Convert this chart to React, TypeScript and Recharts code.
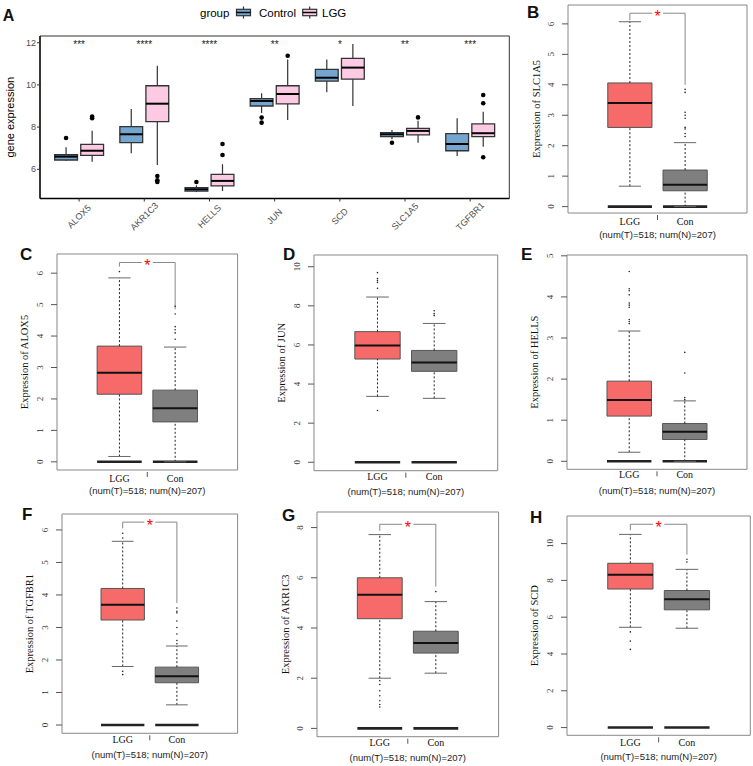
import React from 'react';
import { ComposedChart, XAxis, YAxis, ReferenceArea, ReferenceLine, Scatter } from 'recharts';

const SANS = '"Liberation Sans", Arial, Helvetica, sans-serif';
const SERIF = '"Liberation Serif", "Times New Roman", Times, serif';

// ---------------- Panel A data (ggplot grouped boxplot) ----------------
const genes = ['ALOX5', 'AKR1C3', 'HELLS', 'JUN', 'SCD', 'SLC1A5', 'TGFBR1'];
const groupNames = ['Control', 'LGG'];
const ctrlLow = [6.40, 6.76, 4.92, 8.67, 9.65, 7.42, 6.63];
const ctrlQ1 = [6.44, 7.26, 4.97, 9.00, 10.18, 7.55, 6.88];
const ctrlMed = [6.60, 7.66, 5.05, 9.24, 10.34, 7.66, 7.20];
const ctrlQ3 = [6.69, 8.02, 5.13, 9.35, 10.74, 7.74, 7.69];
const ctrlHigh = [7.04, 8.86, 5.24, 9.60, 11.21, 7.86, 8.42];
const ctrlOutliers = [[7.48], [], [5.40], [8.45, 8.21], [], [7.26], []];
const lggLow = [6.36, 6.20, 4.97, 8.34, 9.00, 7.26, 7.07];
const lggQ1 = [6.66, 8.26, 5.21, 9.10, 10.27, 7.63, 7.55];
const lggMed = [6.88, 9.11, 5.45, 9.57, 10.82, 7.82, 7.71];
const lggQ3 = [7.18, 9.96, 5.76, 9.96, 11.26, 7.94, 8.15];
const lggHigh = [7.83, 10.91, 6.24, 11.20, 11.94, 8.30, 8.73];
const lggOutliers = [[8.50, 8.42], [5.68, 5.48, 5.40], [7.20, 6.68], [11.38], [], [8.46], [9.52, 9.13, 6.57]];
const sigLabels = ['***', '****', '****', '**', '*', '**', '***'];
const sigLevel = 12;
const aYTicks = [6, 8, 10, 12];
const aYDomain: [number, number] = [4.616, 12.318];

// ---------------- Panels B-H data (GEPIA boxplots) ----------------
const gepiaGenes = ['SLC1A5', 'ALOX5', 'JUN', 'HELLS', 'TGFBR1', 'AKR1C3', 'SCD'];
const gepiaLetters = ['B', 'C', 'D', 'E', 'F', 'G', 'H'];
const gepiaGroups = ['LGG', 'Con'];
const sampleCounts = [518, 207];
const tumorLow = [0.67, 0.17, 3.37, 0.22, 1.80, 2.00, 5.45];
const tumorQ1 = [2.60, 2.15, 5.28, 1.10, 3.23, 4.37, 7.53];
const tumorMed = [3.40, 2.83, 5.97, 1.49, 3.70, 5.32, 8.30];
const tumorQ3 = [4.06, 3.68, 6.68, 1.95, 4.20, 6.00, 8.93];
const tumorHigh = [6.07, 5.85, 8.45, 3.17, 5.65, 7.72, 10.50];
const normalLow = [0.00, 0.00, 3.27, 0.00, 0.62, 2.20, 5.40];
const normalQ1 = [0.52, 1.27, 4.65, 0.53, 1.30, 3.00, 6.40];
const normalMed = [0.72, 1.70, 5.10, 0.72, 1.50, 3.40, 6.97];
const normalQ3 = [1.20, 2.28, 5.72, 0.92, 1.78, 3.87, 7.45];
const normalHigh = [2.10, 3.65, 7.10, 1.47, 2.43, 5.05, 8.60];
const tumorExtra = [
  [],
  [6.05],
  [9.7, 9.4, 9.3, 9.2, 8.9, 2.65],
  [4.62, 4.2, 4.15, 4.05, 3.85, 3.8, 3.75, 3.45, 3.4, 3.35],
  [5.9, 5.75, 1.65, 1.55],
  [1.9, 1.75, 1.5, 1.3, 1.1, 0.95, 0.85],
  [5.2, 4.7, 4.25],
];
const normalExtra = [
  [3.85, 3.75, 3.1, 3.0, 2.9, 2.6, 2.55, 2.4, 2.3],
  [4.95, 4.7, 4.3, 4.2, 4.1, 3.9],
  [7.75, 7.6, 7.5],
  [2.65, 2.15, 1.55, 1.5],
  [3.6, 3.5, 3.45, 3.2, 3.0, 2.8, 2.6, 2.5],
  [5.45],
  [9.15, 9.0],
];
const significant = [true, true, false, false, true, true, true];
const bracketTop = [6.35, 6.34, 0, 0, 6.24, 8.13, 11.05];
const bracketLeftEnd = [6.12, 6.21, 0, 0, 6.05, 7.87, 10.72];
const bracketRightEnd = [4.0, 4.85, 0, 0, 3.75, 5.65, 9.4];
const gepiaYTicks = [
  [0, 1, 2, 3, 4, 5, 6],
  [0, 1, 2, 3, 4, 5, 6],
  [0, 2, 4, 6, 8, 10],
  [0, 1, 2, 3, 4, 5],
  [0, 1, 2, 3, 4, 5, 6],
  [0, 2, 4, 6, 8],
  [0, 2, 4, 6, 8, 10],
];
const gepiaYDomains: [number, number][] = [
  [-0.21, 6.62],
  [-0.26, 6.61],
  [-0.43, 10.6],
  [-0.195, 5.02],
  [-0.255, 6.49],
  [-0.33, 8.62],
  [-0.42, 11.5],
];
const gepiaXDomain: [number, number] = [-0.12, 3.12];

// ---------------- Layout (positions/sizes) ----------------
const gepiaFrames = [
  { x: 567.7, y: 5, w: 179, h: 208, lab: 12.4 },
  { x: 56.7, y: 254, w: 180.6, h: 216, lab: 11.7 },
  { x: 314.3, y: 255, w: 183.7, h: 215.7, lab: 9.3 },
  { x: 566.7, y: 255, w: 180, h: 214.3, lab: 9 },
  { x: 61.7, y: 514, w: 175.6, h: 219.3, lab: 10 },
  { x: 316.7, y: 512, w: 181.6, h: 224.7, lab: 9.3 },
  { x: 566.7, y: 515.7, w: 183.3, h: 219.3, lab: 11 },
];
const letterPos = [
  { t: 'A', x: 2.7, y: 20.7, s: 16 },
  { t: 'B', x: 527, y: 17.5, s: 17 },
  { t: 'C', x: 20, y: 260, s: 17 },
  { t: 'D', x: 283, y: 260, s: 17 },
  { t: 'E', x: 521, y: 260, s: 17 },
  { t: 'F', x: 22, y: 520, s: 17 },
  { t: 'G', x: 282, y: 521, s: 17 },
  { t: 'H', x: 530, y: 523, s: 17 },
];

const ctrlFill = '#74A6CF';
const lggFill = '#FCCAE3';
const tumorFill = '#F76A6A';
const normalFill = '#7F7F7F';

// ---------------- Panel A ----------------
function aBox(key: string, c: number, low: number, q1: number, med: number, q3: number, high: number, fill: string) {
  const hw = 0.175;
  return [
    <ReferenceLine key={key + 'wu'} segment={[{ x: c, y: q3 }, { x: c, y: high }]} stroke="#333" strokeWidth={1.2} ifOverflow="visible" />,
    <ReferenceLine key={key + 'wl'} segment={[{ x: c, y: low }, { x: c, y: q1 }]} stroke="#333" strokeWidth={1.2} ifOverflow="visible" />,
    <ReferenceArea key={key + 'b'} x1={c - hw} x2={c + hw} y1={q1} y2={q3} fill={fill} fillOpacity={1} stroke="#333" strokeWidth={1.3} ifOverflow="visible" />,
    <ReferenceLine key={key + 'm'} segment={[{ x: c - hw, y: med }, { x: c + hw, y: med }]} stroke="#000" strokeWidth={2} ifOverflow="visible" />,
  ];
}

const AXTick = (props: any) => {
  const { x, y, payload } = props;
  const label = genes[Math.round(payload.value) - 1];
  const cy = y + 15;
  return (
    <text x={x} y={cy} textAnchor="middle" dominantBaseline="central" transform={`rotate(-45, ${x}, ${cy})`} fontSize={9} fill="#4D4D4D" fontFamily={SANS}>
      {label}
    </text>
  );
};

function PanelA() {
  const elements: any[] = [];
  genes.forEach((g, i) => {
    const c = i + 1;
    elements.push(...aBox('c' + i, c - 0.2, ctrlLow[i], ctrlQ1[i], ctrlMed[i], ctrlQ3[i], ctrlHigh[i], ctrlFill));
    elements.push(...aBox('l' + i, c + 0.2, lggLow[i], lggQ1[i], lggMed[i], lggQ3[i], lggHigh[i], lggFill));
  });
  const outliers: { x: number; y: number }[] = [];
  genes.forEach((g, i) => {
    ctrlOutliers[i].forEach((v) => outliers.push({ x: i + 1 - 0.2, y: v }));
    lggOutliers[i].forEach((v) => outliers.push({ x: i + 1 + 0.2, y: v }));
  });
  const stars = genes.map((g, i) => ({ x: i + 1, y: sigLevel, label: sigLabels[i] }));
  return (
    <div style={{ position: 'absolute', left: 0, top: 0 }}>
      <ComposedChart width={515} height={250} margin={{ top: 36, right: 5.7, bottom: 6.5, left: 0 }}>
        <XAxis
          dataKey="x"
          type="number"
          domain={[0.4, 7.6]}
          allowDataOverflow
          ticks={[1, 2, 3, 4, 5, 6, 7]}
          interval={0}
          height={45}
          tickSize={3}
          tickMargin={0}
          tick={AXTick}
          axisLine={{ stroke: '#000', strokeWidth: 1.3 }}
          tickLine={{ stroke: '#333' }}
        />
        <YAxis
          dataKey="y"
          type="number"
          domain={aYDomain}
          allowDataOverflow
          ticks={aYTicks}
          interval={0}
          width={40}
          tickSize={3}
          tickMargin={1}
          tick={{ fontSize: 9, fill: '#4D4D4D', fontFamily: SANS }}
          axisLine={{ stroke: '#000', strokeWidth: 1.3 }}
          tickLine={{ stroke: '#333' }}
          label={(p: any) => {
            const vb = p.viewBox;
            const tx = vb.x + 14;
            const ty = vb.y + vb.height / 2;
            return (
              <text x={tx} y={ty} transform={`rotate(-90, ${tx}, ${ty})`} textAnchor="middle" fontSize={11} fontFamily={SANS} fill="#000">
                gene expression
              </text>
            );
          }}
        />
        <ReferenceArea x1={0.4} x2={7.6} y1={aYDomain[0]} y2={aYDomain[1]} fill="none" stroke="#333" strokeWidth={1} ifOverflow="visible" />
        {elements}
        <Scatter
          data={outliers}
          dataKey="y"
          isAnimationActive={false}
          shape={(p: any) => <circle cx={p.cx} cy={p.cy} r={2.3} fill="#000" />}
        />
        <Scatter
          data={stars}
          dataKey="y"
          isAnimationActive={false}
          shape={(p: any) => (
            <text x={p.cx} y={p.cy + 5.7} textAnchor="middle" fontSize={10} fontFamily={SANS} fill="#222">
              {p.payload.label}
            </text>
          )}
        />
      </ComposedChart>
    </div>
  );
}

// ---------------- GEPIA panels ----------------
function gepiaBox(key: string, c: number, low: number, q1: number, med: number, q3: number, high: number, fill: string) {
  const hw = 0.4;
  const sw = 0.2;
  return [
    <ReferenceLine key={key + 'z'} segment={[{ x: c - hw, y: 0 }, { x: c + hw, y: 0 }]} stroke="#222" strokeWidth={2.6} ifOverflow="visible" />,
    <ReferenceLine key={key + 'wu'} segment={[{ x: c, y: q3 }, { x: c, y: high }]} stroke="#222" strokeWidth={1} strokeDasharray="2 2" ifOverflow="visible" />,
    <ReferenceLine key={key + 'wl'} segment={[{ x: c, y: low }, { x: c, y: q1 }]} stroke="#222" strokeWidth={1} strokeDasharray="2 2" ifOverflow="visible" />,
    <ReferenceLine key={key + 'su'} segment={[{ x: c - sw, y: high }, { x: c + sw, y: high }]} stroke="#666" strokeWidth={1} ifOverflow="visible" />,
    <ReferenceLine key={key + 'sl'} segment={[{ x: c - sw, y: low }, { x: c + sw, y: low }]} stroke="#666" strokeWidth={1} ifOverflow="visible" />,
    <ReferenceArea key={key + 'b'} x1={c - hw} x2={c + hw} y1={q1} y2={q3} fill={fill} fillOpacity={1} stroke="#555" strokeWidth={1} ifOverflow="visible" />,
    <ReferenceLine key={key + 'm'} segment={[{ x: c - hw, y: med }, { x: c + hw, y: med }]} stroke="#111" strokeWidth={2} ifOverflow="visible" />,
  ];
}

function GepiaPanel({ idx }: { idx: number }) {
  const F = gepiaFrames[idx];
  const W = F.w + 45;
  const H = F.h + 5 + 36;
  const dom = gepiaYDomains[idx];
  const elements: any[] = [];
  elements.push(...gepiaBox('t', 1, tumorLow[idx], tumorQ1[idx], tumorMed[idx], tumorQ3[idx], tumorHigh[idx], tumorFill));
  elements.push(...gepiaBox('n', 2, normalLow[idx], normalQ1[idx], normalMed[idx], normalQ3[idx], normalHigh[idx], normalFill));
  if (significant[idx]) {
    const top = bracketTop[idx];
    elements.push(
      <ReferenceLine key="bl" segment={[{ x: 1, y: bracketLeftEnd[idx] }, { x: 1, y: top }]} stroke="#888" strokeWidth={1} ifOverflow="visible" />,
      <ReferenceLine key="bh1" segment={[{ x: 1, y: top }, { x: 1.4, y: top }]} stroke="#888" strokeWidth={1} ifOverflow="visible" />,
      <ReferenceLine key="bh2" segment={[{ x: 1.6, y: top }, { x: 2, y: top }]} stroke="#888" strokeWidth={1} ifOverflow="visible" />,
      <ReferenceLine key="br" segment={[{ x: 2, y: top }, { x: 2, y: bracketRightEnd[idx] }]} stroke="#888" strokeWidth={1} ifOverflow="visible" />
    );
  }
  const pts: { x: number; y: number }[] = [];
  tumorExtra[idx].forEach((v) => pts.push({ x: 1, y: v }));
  normalExtra[idx].forEach((v) => pts.push({ x: 2, y: v }));
  const starData = significant[idx] ? [{ x: 1.5, y: bracketTop[idx] }] : [];
  const lab = F.lab;
  const XTick = (props: any) => {
    const { x, y, payload } = props;
    if (payload.value === 1.5) {
      return <line x1={x} x2={x} y1={y + 2} y2={y + 7} stroke="#555" strokeWidth={1} />;
    }
    return (
      <text x={x} y={y + lab} textAnchor="middle" fontSize={10} fontFamily={SERIF} fill="#111">
        {gepiaGroups[Math.round(payload.value) - 1]}
      </text>
    );
  };
  const YTick = (props: any) => {
    const { x, y, payload } = props;
    const tx = x - 14;
    return (
      <g>
        <line x1={x - 6} x2={x} y1={y} y2={y} stroke="#555" strokeWidth={1} />
        <text x={tx} y={y} transform={`rotate(-90, ${tx}, ${y})`} textAnchor="middle" fontSize={9} fontFamily={SERIF} fill="#333">
          {payload.value}
        </text>
      </g>
    );
  };
  return (
    <div style={{ position: 'absolute', left: F.x - 40, top: F.y - 5 }}>
      <ComposedChart width={W} height={H} margin={{ top: 5, right: 5, bottom: 4, left: 0 }}>
        <XAxis
          dataKey="x"
          type="number"
          domain={gepiaXDomain}
          allowDataOverflow
          ticks={[1, 1.5, 2]}
          interval={0}
          height={32}
          tickSize={0}
          tickMargin={0}
          axisLine={false}
          tickLine={false}
          tick={XTick}
          label={(p: any) => {
            const vb = p.viewBox;
            return (
              <text x={vb.x + vb.width / 2} y={vb.y + 24.5} textAnchor="middle" fontSize={9.5} fontFamily={SANS} fill="#222">
                {`(num(T)=${sampleCounts[0]}; num(N)=${sampleCounts[1]})`}
              </text>
            );
          }}
        />
        <YAxis
          dataKey="y"
          type="number"
          domain={dom}
          allowDataOverflow
          ticks={gepiaYTicks[idx]}
          interval={0}
          width={40}
          tickSize={0}
          tickMargin={0}
          axisLine={false}
          tickLine={false}
          tick={YTick}
          label={(p: any) => {
            const vb = p.viewBox;
            const tx = vb.x + vb.width - 28.5;
            const ty = vb.y + vb.height / 2;
            return (
              <text x={tx} y={ty} transform={`rotate(-90, ${tx}, ${ty})`} textAnchor="middle" fontSize={10.5} fontFamily={SERIF} fill="#111">
                {`Expression of ${gepiaGenes[idx]}`}
              </text>
            );
          }}
        />
        <ReferenceArea x1={gepiaXDomain[0]} x2={gepiaXDomain[1]} y1={dom[0]} y2={dom[1]} fill="none" stroke="#888" strokeWidth={1} ifOverflow="visible" />
        {elements}
        <Scatter data={pts} dataKey="y" isAnimationActive={false} shape={(p: any) => <circle cx={p.cx} cy={p.cy} r={0.8} fill="#222" />} />
        <Scatter
          data={starData}
          dataKey="y"
          isAnimationActive={false}
          shape={(p: any) => (
            <text x={p.cx} y={p.cy + 9} textAnchor="middle" fontSize={16} fontFamily={SANS} fill="#FF0000">
              *
            </text>
          )}
        />
      </ComposedChart>
    </div>
  );
}

function LegendKey({ x, fill }: { x: number; fill: string }) {
  const cx = x + 7;
  return (
    <g>
      <line x1={cx} x2={cx} y1={6.5} y2={18.5} stroke="#333" strokeWidth={1.2} />
      <rect x={x} y={9.3} width={14} height={6.4} fill={fill} stroke="#333" strokeWidth={1.2} />
      <line x1={x} x2={x + 14} y1={12.5} y2={12.5} stroke="#000" strokeWidth={1.5} />
    </g>
  );
}

function Overlay() {
  return (
    <svg width={753} height={766} style={{ position: 'absolute', left: 0, top: 0, pointerEvents: 'none' }}>
      <text x={200} y={16.7} fontSize={11.5} fontFamily={SANS} fill="#000">group</text>
      <LegendKey x={236.5} fill={ctrlFill} />
      <text x={259} y={16.7} fontSize={11.5} fontFamily={SANS} fill="#000">{groupNames[0]}</text>
      <LegendKey x={302.7} fill={lggFill} />
      <text x={322} y={16.7} fontSize={11.5} fontFamily={SANS} fill="#000">{groupNames[1]}</text>
      {letterPos.map((l) => (
        <text key={l.t} x={l.x} y={l.y} fontSize={l.s} fontWeight="bold" fontFamily={SANS} fill="#111">
          {l.t}
        </text>
      ))}
    </svg>
  );
}

export default function App() {
  return (
    <div style={{ position: 'absolute', left: 0, top: 0, width: 753, height: 766, background: '#fff', overflow: 'hidden' }}>
      <PanelA />
      {gepiaGenes.map((g, i) => (
        <GepiaPanel key={g} idx={i} />
      ))}
      <Overlay />
    </div>
  );
}
